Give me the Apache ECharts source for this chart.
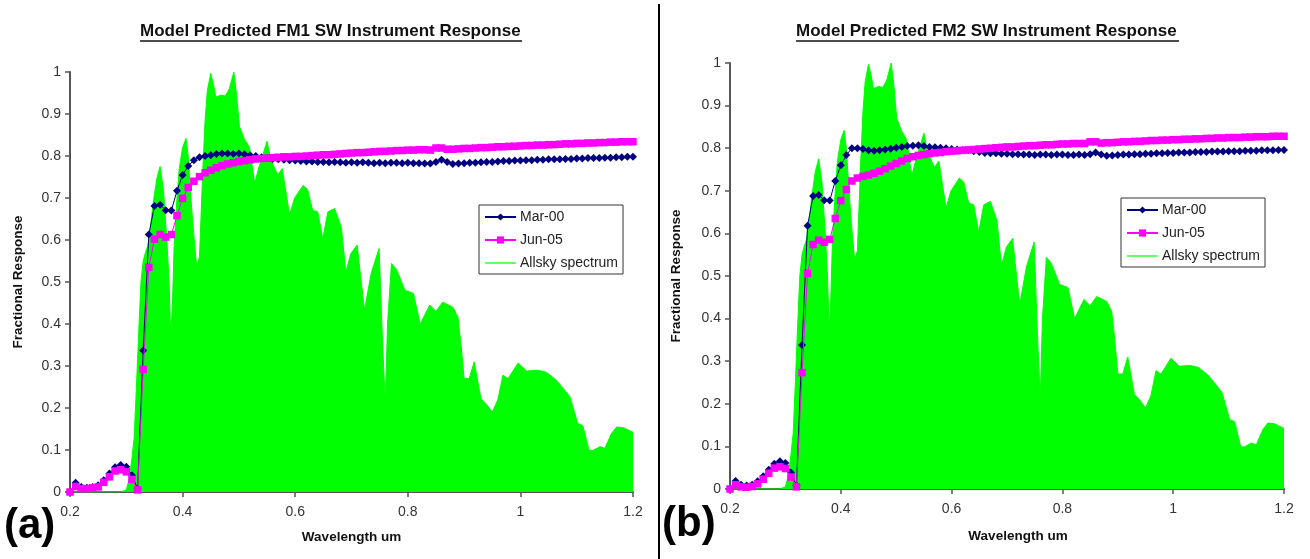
<!DOCTYPE html>
<html>
<head>
<meta charset="utf-8">
<script src="https://cdn.jsdelivr.net/npm/echarts@6/dist/echarts.min.js"></script>
<style>
  html, body { margin: 0; padding: 0; background: #fff; }
  #main { width: 1310px; height: 559px; }
</style>
</head>
<body>
<div id="main"></div>
<script>
// wavelength sampling of the instrument response curves (um)
const wl = [0.20,0.21,0.22,0.23,0.24,0.25,0.26,0.27,0.28,0.29,0.30,0.31,0.32,0.33,0.34,0.35,0.36,0.37,0.38,0.39,
  0.40,0.41,0.42,0.43,0.44,0.45,0.46,0.47,0.48,0.49,0.50,0.51,0.52,0.53,0.54,0.55,0.56,0.57,0.58,0.59,
  0.60,0.61,0.62,0.63,0.64,0.65,0.66,0.67,0.68,0.69,0.70,0.71,0.72,0.73,0.74,0.75,0.76,0.77,0.78,0.79,
  0.80,0.81,0.82,0.83,0.84,0.85,0.86,0.87,0.88,0.89,0.90,0.91,0.92,0.93,0.94,0.95,0.96,0.97,0.98,0.99,
  1.00,1.01,1.02,1.03,1.04,1.05,1.06,1.07,1.08,1.09,1.10,1.11,1.12,1.13,1.14,1.15,1.16,1.17,1.18,1.19,1.20]

// FM1
const fm1Mar = [0.000,0.022,0.012,0.010,0.012,0.016,0.028,0.044,0.059,0.064,0.060,0.040,0.008,0.337,0.613,0.681,0.684,0.671,0.670,0.717,
  0.755,0.776,0.790,0.797,0.800,0.802,0.805,0.806,0.806,0.805,0.806,0.804,0.802,0.800,0.797,0.795,0.793,0.792,0.791,0.790,
  0.789,0.788,0.787,0.787,0.786,0.786,0.785,0.786,0.785,0.784,0.785,0.784,0.785,0.784,0.783,0.784,0.783,0.784,0.784,0.783,
  0.784,0.783,0.783,0.782,0.782,0.786,0.791,0.786,0.781,0.782,0.783,0.784,0.784,0.785,0.786,0.786,0.787,0.788,0.788,0.789,
  0.789,0.790,0.790,0.791,0.791,0.792,0.792,0.792,0.793,0.793,0.794,0.794,0.795,0.795,0.795,0.796,0.796,0.797,0.797,0.798,0.798]
const fm1Jun = [0.000,0.013,0.008,0.008,0.010,0.012,0.023,0.036,0.050,0.053,0.048,0.030,0.005,0.292,0.535,0.602,0.613,0.607,0.613,0.658,
  0.699,0.725,0.740,0.751,0.760,0.766,0.772,0.777,0.781,0.784,0.787,0.789,0.791,0.793,0.794,0.795,0.796,0.797,0.798,0.798,
  0.799,0.799,0.800,0.801,0.802,0.803,0.803,0.804,0.805,0.806,0.807,0.808,0.808,0.809,0.810,0.811,0.811,0.812,0.813,0.813,
  0.814,0.814,0.815,0.815,0.814,0.819,0.819,0.816,0.816,0.817,0.818,0.818,0.819,0.820,0.820,0.821,0.822,0.822,0.823,0.823,
  0.824,0.825,0.825,0.826,0.826,0.827,0.827,0.828,0.829,0.829,0.830,0.830,0.831,0.831,0.832,0.832,0.833,0.833,0.834,0.834,0.834]

// FM2
const fm2Mar = [0.000,0.019,0.010,0.008,0.010,0.018,0.030,0.045,0.059,0.065,0.061,0.039,0.008,0.338,0.618,0.688,0.690,0.678,0.677,0.723,
  0.760,0.784,0.800,0.800,0.798,0.795,0.794,0.795,0.797,0.799,0.801,0.803,0.805,0.806,0.807,0.805,0.803,0.802,0.801,0.800,
  0.798,0.797,0.796,0.795,0.793,0.791,0.789,0.788,0.788,0.787,0.787,0.786,0.786,0.785,0.785,0.784,0.785,0.785,0.784,0.785,
  0.785,0.784,0.784,0.785,0.784,0.786,0.790,0.785,0.782,0.783,0.784,0.785,0.785,0.786,0.786,0.787,0.787,0.788,0.788,0.789,
  0.789,0.790,0.790,0.790,0.791,0.791,0.791,0.792,0.792,0.792,0.793,0.793,0.793,0.794,0.794,0.794,0.795,0.795,0.795,0.796,0.796]
const fm2Jun = [0.000,0.010,0.005,0.004,0.006,0.012,0.023,0.037,0.049,0.052,0.048,0.028,0.005,0.273,0.506,0.574,0.584,0.579,0.586,0.635,
  0.677,0.703,0.723,0.730,0.734,0.737,0.741,0.746,0.752,0.758,0.764,0.770,0.776,0.780,0.783,0.785,0.787,0.789,0.790,0.792,
  0.793,0.794,0.795,0.796,0.797,0.798,0.799,0.800,0.801,0.802,0.803,0.803,0.804,0.805,0.806,0.806,0.807,0.808,0.808,0.809,
  0.810,0.810,0.811,0.811,0.811,0.815,0.815,0.812,0.813,0.813,0.814,0.815,0.815,0.816,0.816,0.817,0.818,0.818,0.819,0.819,
  0.820,0.820,0.821,0.821,0.822,0.822,0.823,0.823,0.824,0.824,0.825,0.825,0.825,0.826,0.826,0.827,0.827,0.827,0.828,0.828,0.828]

// Allsky spectrum (normalised), same for both panels
const specWl = [0.20,0.25,0.29,0.300,0.305,0.310,0.314,0.318,0.322,0.326,0.330,0.334,0.338,0.342,0.348,0.354,0.360,0.366,0.372,0.376,
  0.379,0.382,0.385,0.390,0.394,0.400,0.406,0.410,0.415,0.420,0.425,0.430,0.436,0.440,0.444,0.450,0.455,0.459,0.468,0.476,
  0.483,0.491,0.496,0.501,0.510,0.519,0.528,0.536,0.550,0.557,0.569,0.577,0.590,0.599,0.614,0.622,0.631,0.640,0.649,0.658,
  0.670,0.682,0.690,0.699,0.710,0.723,0.735,0.749,0.755,0.760,0.764,0.771,0.780,0.795,0.810,0.822,0.839,0.850,0.862,0.880,
  0.889,0.895,0.900,0.909,0.918,0.930,0.939,0.950,0.960,0.969,0.978,0.996,1.011,1.031,1.046,1.064,1.088,1.102,1.111,1.122,
  1.129,1.141,1.150,1.162,1.171,1.183,1.200]
const specVal = [0,0,0,0.005,0.03,0.08,0.13,0.25,0.38,0.50,0.55,0.57,0.585,0.62,0.69,0.745,0.775,0.72,0.60,0.50,
  0.37,0.45,0.585,0.70,0.77,0.82,0.842,0.80,0.695,0.61,0.537,0.56,0.77,0.886,0.956,0.997,0.97,0.94,0.945,0.943,
  0.96,1.0,0.945,0.87,0.84,0.82,0.735,0.775,0.835,0.79,0.755,0.77,0.66,0.70,0.73,0.72,0.671,0.667,0.603,0.667,
  0.675,0.63,0.524,0.568,0.588,0.433,0.521,0.58,0.362,0.211,0.40,0.544,0.53,0.48,0.473,0.40,0.445,0.43,0.452,0.44,
  0.417,0.345,0.27,0.27,0.31,0.222,0.21,0.19,0.22,0.278,0.27,0.307,0.288,0.29,0.285,0.266,0.227,0.163,0.158,0.099,
  0.099,0.108,0.104,0.14,0.155,0.153,0.142]

const titles = ['Model Predicted FM1 SW Instrument Response', 'Model Predicted FM2 SW Instrument Response']
const panelTags = ['(a)', '(b)']
const xTicks = { min: 0.2, max: 1.2, interval: 0.2 }
const yTicks = { min: 0, max: 1, interval: 0.1 }

const FONT = 'Liberation Sans, Arial, sans-serif'
const zip = (xs, ys) => xs.map((x, i) => [x, ys[i]])

const myChart = echarts.init(document.getElementById('main'))

function xAxisOf(idx, gap, namePad) {
  return {
    gridIndex: idx, type: 'value', min: xTicks.min, max: xTicks.max, interval: xTicks.interval,
    name: 'Wavelength um', nameLocation: 'middle', nameGap: gap,
    nameTextStyle: { fontFamily: FONT, fontSize: 13.5, fontWeight: 'bold', color: '#111', padding: namePad },
    axisLine: { lineStyle: { color: '#555', width: 2 } },
    axisTick: { show: true, length: 5, lineStyle: { color: '#555', width: 1.5 } },
    axisLabel: { fontFamily: FONT, fontSize: 14, color: '#333', margin: 13 },
    splitLine: { show: false }
  }
}
function yAxisOf(idx, gap) {
  return {
    gridIndex: idx, type: 'value', min: yTicks.min, max: yTicks.max, interval: yTicks.interval,
    name: 'Fractional Response', nameLocation: 'middle', nameGap: gap,
    nameTextStyle: { fontFamily: FONT, fontSize: 13.5, fontWeight: 'bold', color: '#111' },
    axisLine: { show: true, lineStyle: { color: '#555', width: 2 } },
    axisTick: { show: true, length: 5, lineStyle: { color: '#555', width: 1.5 } },
    axisLabel: { fontFamily: FONT, fontSize: 14, color: '#333', margin: 9 },
    splitLine: { show: false }
  }
}
function seriesOf(idx, mar, jun) {
  return [
    {
      name: 'Allsky spectrum', type: 'line', xAxisIndex: idx, yAxisIndex: idx,
      data: zip(specWl, specVal), symbol: 'none', smooth: false,
      lineStyle: { color: '#00ff00', width: 1 }, itemStyle: { color: '#66ff66' },
      areaStyle: { color: '#00ff00', opacity: 1 }, z: 1
    },
    {
      name: 'Mar-00', type: 'line', xAxisIndex: idx, yAxisIndex: idx,
      data: zip(wl, mar), symbol: 'diamond', symbolSize: 8, showAllSymbol: true,
      lineStyle: { color: '#000080', width: 1 }, itemStyle: { color: '#000080' }, z: 2
    },
    {
      name: 'Jun-05', type: 'line', xAxisIndex: idx, yAxisIndex: idx,
      data: zip(wl, jun), symbol: 'rect', symbolSize: 7.5, showAllSymbol: true,
      lineStyle: { color: '#ff00ff', width: 1 }, itemStyle: { color: '#ff00ff' }, z: 3
    }
  ]
}
function legendOf(left, top) {
  return {
    data: [
      'Mar-00',
      'Jun-05',
      { name: 'Allsky spectrum', itemStyle: { opacity: 0 }, lineStyle: { color: '#66ff66', width: 2 } }
    ],
    orient: 'vertical', left: left, top: top,
    backgroundColor: '#fff', borderColor: '#333', borderWidth: 1, borderRadius: 0,
    padding: [5, 5, 4, 5], itemGap: 9, itemWidth: 31, itemHeight: 9, selectedMode: false,
    textStyle: { fontFamily: FONT, fontSize: 14, color: '#222', padding: [0, 0, 0, -1] }
  }
}

const option = {
  backgroundColor: '#fff',
  animation: false,
  title: [
    { text: titles[0], left: 140, top: 23, padding: 0, textStyle: { fontFamily: FONT, fontSize: 17, fontWeight: 'bold', color: '#111' } },
    { text: titles[1], left: 796, top: 23, padding: 0, textStyle: { fontFamily: FONT, fontSize: 17, fontWeight: 'bold', color: '#111' } },
    { text: panelTags[0], left: 4, top: 505, padding: 0, textStyle: { fontFamily: FONT, fontSize: 42, fontWeight: 'bold', color: '#000' } },
    { text: panelTags[1], left: 662, top: 503, padding: 0, textStyle: { fontFamily: FONT, fontSize: 42, fontWeight: 'bold', color: '#000' } }
  ],
  grid: [
    { left: 70, top: 72, width: 563, height: 420 },
    { left: 730, top: 63, width: 554, height: 426 }
  ],
  xAxis: [xAxisOf(0, 38, [0, 0, 0, 0]), xAxisOf(1, 40, [0, 0, 0, 22])],
  yAxis: [yAxisOf(0, 45), yAxisOf(1, 47)],
  legend: [legendOf(479, 205), legendOf(1121, 198)],
  series: [...seriesOf(0, fm1Mar, fm1Jun), ...seriesOf(1, fm2Mar, fm2Jun)],
  graphic: [
    // panel divider
    { type: 'line', shape: { x1: 659, y1: 4, x2: 659, y2: 559 }, style: { stroke: '#000', lineWidth: 2 } },
    // title underlines
    { type: 'line', shape: { x1: 140, y1: 41, x2: 522, y2: 41 }, style: { stroke: '#111', lineWidth: 1.5 } },
    { type: 'line', shape: { x1: 796, y1: 41, x2: 1179, y2: 41 }, style: { stroke: '#111', lineWidth: 1.5 } }
  ]
}

myChart.setOption(option)
</script>
</body>
</html>
